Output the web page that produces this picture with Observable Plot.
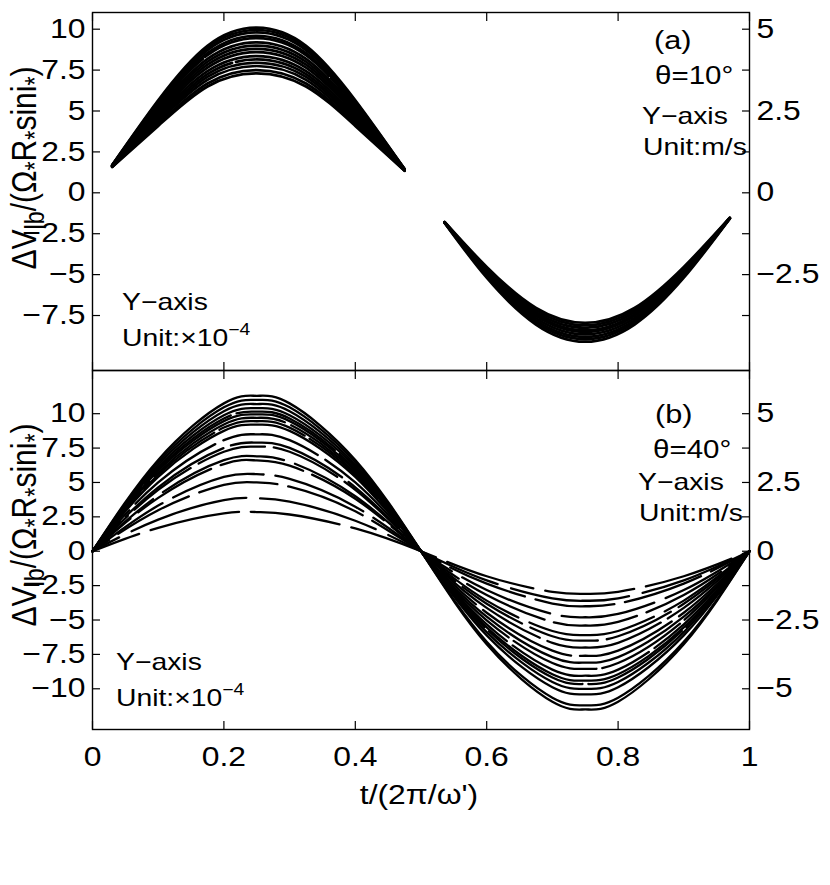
<!DOCTYPE html>
<html><head><meta charset="utf-8">
<script src="https://cdn.jsdelivr.net/npm/d3@7"></script>
<script src="https://cdn.jsdelivr.net/npm/@observablehq/plot@0.6"></script>
<style>
body{margin:0;background:#fff;}
#wrap{position:relative;width:830px;height:885px;font-family:"Liberation Sans",Arial,Helvetica,sans-serif;color:#000;overflow:hidden;}
#wrap svg{position:absolute;left:0;}
.ann{position:absolute;white-space:nowrap;line-height:1;transform-origin:0 50%;}
.ann sup{font-size:68%;line-height:0;position:relative;top:-0.15em;}
.ann sub{font-size:78%;line-height:0;}
</style></head><body><div id="wrap"></div>
<script>
// ---------- Panel (a), theta = 10 deg ----------
const tPosA = [0.03, 0.1, 0.175, 0.25, 0.325, 0.4, 0.475];
const posA = [
  [1.70, 5.66, 8.99, 10.10, 8.99, 5.66, 1.45],
  [1.70, 5.57, 8.86, 9.95, 8.86, 5.57, 1.45],
  [1.68, 5.49, 8.72, 9.80, 8.72, 5.49, 1.44],
  [1.68, 5.38, 8.54, 9.60, 8.54, 5.38, 1.43],
  [1.67, 5.29, 8.41, 9.45, 8.41, 5.29, 1.42],
  [1.66, 5.15, 8.19, 9.20, 8.19, 5.15, 1.42],
  [1.65, 5.04, 8.01, 9.00, 8.01, 5.04, 1.41],
  [1.64, 4.93, 7.83, 8.80, 7.83, 4.93, 1.40],
  [1.63, 4.82, 7.65, 8.60, 7.65, 4.82, 1.40],
  [1.62, 4.68, 7.43, 8.35, 7.43, 4.68, 1.39],
  [1.61, 4.56, 7.25, 8.15, 7.25, 4.56, 1.38],
  [1.60, 4.45, 7.08, 7.95, 7.08, 4.45, 1.38],
  [1.60, 4.34, 6.90, 7.75, 6.90, 4.34, 1.37],
  [1.59, 4.20, 6.68, 7.50, 6.68, 4.20, 1.36],
  [1.58, 4.09, 6.50, 7.30, 6.50, 4.09, 1.35]
];
const tNegA = [0.536, 0.6, 0.675, 0.75, 0.825, 0.9, 0.97];
const negA = [
  [-1.78, -4.53, -7.04, -7.95, -7.04, -4.53, -1.52],
  [-1.79, -4.62, -7.17, -8.10, -7.17, -4.62, -1.53],
  [-1.80, -4.70, -7.30, -8.25, -7.30, -4.70, -1.54],
  [-1.80, -4.79, -7.43, -8.40, -7.43, -4.79, -1.55],
  [-1.81, -4.85, -7.52, -8.50, -7.52, -4.85, -1.55],
  [-1.82, -4.93, -7.66, -8.65, -7.66, -4.93, -1.56],
  [-1.82, -5.02, -7.79, -8.80, -7.79, -5.02, -1.57],
  [-1.83, -5.10, -7.92, -8.95, -7.92, -5.10, -1.57],
  [-1.84, -5.19, -8.05, -9.10, -8.05, -5.19, -1.58]
];

// ---------- Panel (b), theta = 40 deg ----------
const tB = [0, 0.1, 0.2, 0.25, 0.3, 0.4, 0.5, 0.6, 0.7, 0.75, 0.8, 0.9, 1];
const curvesB = [
  [0, 6.64, 10.75, 11.30, 10.75, 6.64, 0, -6.76, -10.94, -11.50, -10.94, -6.76, 0],
  [0, 6.47, 10.46, 11.00, 10.46, 6.47, 0, -6.59, -10.65, -11.20, -10.65, -6.59, 0],
  [0, 6.29, 10.18, 10.70, 10.18, 6.29, 0, -6.12, -9.89, -10.40, -9.89, -6.12, 0],
  [0, 6.12, 9.89, 10.40, 9.89, 6.12, 0, -5.88, -9.51, -10.00, -9.51, -5.88, 0],
  [0, 5.97, 9.65, 10.15, 9.65, 5.97, 0, -5.67, -9.18, -9.65, -9.18, -5.67, 0],
  [0, 5.85, 9.46, 9.95, 9.46, 5.85, 0, -5.53, -8.94, -9.40, -8.94, -5.53, 0],
  [0, 5.70, 9.22, 9.70, 9.22, 5.70, 0, -5.32, -8.61, -9.05, -8.61, -5.32, 0],
  [0, 5.56, 8.99, 9.45, 8.99, 5.56, 0, -5.03, -8.13, -8.55, -8.13, -5.03, 0],
  [0, 5.41, 8.75, 9.20, 8.75, 5.41, 0, -4.76, -7.70, -8.10, -7.70, -4.76, 0],
  [0, 5.00, 8.08, 8.50, 8.08, 5.00, 0, -4.47, -7.23, -7.60, -7.23, -4.47, 0],
  [0, 4.65, 7.51, 7.90, 7.51, 4.65, 0, -4.12, -6.66, -7.00, -6.66, -4.12, 0],
  [0, 4.47, 7.23, 7.60, 7.23, 4.47, 0, -3.82, -6.18, -6.50, -6.18, -3.82, 0],
  [0, 4.06, 6.62, 6.90, 6.50, 4.00, 0, -3.59, -5.80, -6.10, -5.80, -3.59, 0],
  [0, 3.88, 6.34, 6.60, 6.22, 3.82, 0, -3.18, -5.14, -5.40, -5.14, -3.18, 0],
  [0, 3.32, 5.40, 5.60, 5.26, 3.24, 0, -2.82, -4.56, -4.80, -4.56, -2.82, 0],
  [0, 2.98, 4.83, 5.00, 4.69, 2.90, 0, -2.35, -3.80, -4.00, -3.80, -2.35, 0],
  [0, 2.30, 3.72, 3.85, 3.60, 2.22, 0, -2.12, -3.42, -3.60, -3.42, -2.12, 0],
  [0, 1.70, 2.75, 2.85, 2.67, 1.66, 0, -1.82, -2.95, -3.10, -2.95, -1.82, 0]
];

// ---------- axes ----------
const xTicks = [0, 0.2, 0.4, 0.6, 0.8, 1];
const xTickLabels = [0, 0.2, 0.4, 0.6, 0.8, 1];
const yTicksA = [-7.5, -5, -2.5, 0, 2.5, 5, 7.5, 10];
const yTicksB = [-10, -7.5, -5, -2.5, 0, 2.5, 5, 7.5, 10];
const rightLabelsA = [-2.5, 0, 2.5, 5];        // m/s (right axis = left / 2)
const rightLabelsB = [-5, -2.5, 0, 2.5, 5];

// line styles (not data)
const dashA = ["none","none","none","none","140,3","none","none","none","none","none","160,4","none","none","none","none"];
const dashB = ["none","none","none","none","110,6","none","150,7","90,6","none","100,9","120,8","70,9","130,12","85,10","95,12","80,11","120,14","90,12"];
const offB  = [0,0,0,0,30,0,60,15,0,45,80,20,50,35,10,60,90,40];

const fmt = d3.format("~g");
const FONT = "'Liberation Sans', Arial, Helvetica, sans-serif";
const STRETCH = 1.18;

function rows(ts, vals) {
  return vals.map((r, i) => r.map((v, j) => ({t: ts[j], v, id: i})));
}

function frameMarks(yTicks, rightLabels, withXLabels) {
  const m = [
    Plot.frame({stroke: "black", strokeWidth: 1.4}),
    Plot.axisY(yTicks, {anchor: "left", tickSize: 0, tickPadding: 7, tickFormat: fmt, label: null, fontSize: 27}),
    Plot.axisY(rightLabels.map(v => v * 2), {anchor: "right", tickSize: 0, tickPadding: 7, tickFormat: d => fmt(d / 2), label: null, fontSize: 27}),
    Plot.axisY(yTicks, {anchor: "left", tickSize: 8, dx: 8, tickFormat: () => "", label: null, strokeWidth: 1.2}),
    Plot.axisY(yTicks, {anchor: "right", tickSize: 8, dx: -8, tickFormat: () => "", label: null, strokeWidth: 1.2}),
    Plot.axisX(xTicks, {anchor: "bottom", tickSize: 8, dy: -8, tickFormat: () => "", label: null, strokeWidth: 1.2}),
    Plot.axisX(xTicks, {anchor: "top", tickSize: 8, dy: 8, tickFormat: () => "", label: null, strokeWidth: 1.2})
  ];
  if (withXLabels) m.push(Plot.axisX(xTickLabels, {anchor: "bottom", tickSize: 0, tickPadding: 17, tickFormat: fmt, label: null, fontSize: 27}));
  return m;
}

function stretchText(svg, k) {
  svg.querySelectorAll("text").forEach(t => {
    const tr = t.getAttribute("transform");
    if (tr) t.setAttribute("transform", tr + ` scale(${k},1)`);
    else {
      const x = +(t.getAttribute("x") || 0), y = +(t.getAttribute("y") || 0);
      t.setAttribute("transform", `translate(${x},${y}) scale(${k},1) translate(${-x},${-y})`);
    }
  });
}

const linesA = [
  ...rows(tPosA, posA).map((d, i) => Plot.line(d, {x: "t", y: "v", curve: "natural", stroke: "black", strokeWidth: 2.7, strokeDasharray: dashA[i]})),
  ...rows(tNegA, negA).map((d) => Plot.line(d, {x: "t", y: "v", curve: "natural", stroke: "black", strokeWidth: 2.7}))
];
const linesB = rows(tB, curvesB).map((d, i) => Plot.line(d, {x: "t", y: "v", curve: "natural", stroke: "black", strokeWidth: 2.3, strokeDasharray: dashB[i], strokeDashoffset: offB[i]}));

const styleBase = {fontFamily: FONT, fontSize: "27px", color: "black", background: "transparent", overflow: "visible"};

const plotA = Plot.plot({
  width: 830, height: 372, marginTop: 12, marginBottom: 2, marginLeft: 92, marginRight: 81,
  x: {domain: [0, 1]}, y: {domain: [-10.86, 11.02]},
  style: styleBase,
  marks: [...linesA, ...frameMarks(yTicksA, rightLabelsA, false)]
});
const plotB = Plot.plot({
  width: 830, height: 525, marginTop: 10, marginBottom: 156, marginLeft: 92, marginRight: 81,
  x: {domain: [0, 1]}, y: {domain: [-12.96, 13.14]},
  style: styleBase,
  marks: [...linesB, ...frameMarks(yTicksB, rightLabelsB, true)]
});
stretchText(plotA, STRETCH);
stretchText(plotB, STRETCH);
plotA.style.top = "0px";
plotB.style.top = "360px";
const wrap = document.getElementById("wrap");
wrap.appendChild(plotA);
wrap.appendChild(plotB);

// ---------- annotations ----------
function note(html, x, y, size, center) {
  const d = document.createElement("div");
  d.className = "ann";
  d.innerHTML = html;
  d.style.left = x + "px";
  d.style.top = y + "px";
  d.style.fontSize = size + "px";
  if (center) { d.style.transformOrigin = "50% 50%"; d.style.transform = `translate(-50%,-50%) scaleX(${STRETCH})`; }
  else d.style.transform = `translateY(-50%) scaleX(${STRETCH})`;
  wrap.appendChild(d);
}
note("(a)", 654, 40, 26);
note("θ=10°", 655, 75, 25);
note("Y−axis", 642, 116, 24);
note("Unit:m/s", 643, 147, 24);
note("Y−axis", 122, 302, 24);
note("Unit:×10<sup>−4</sup>", 122, 338, 24);
note("(b)", 655, 414, 26);
note("θ=40°", 653, 449, 25);
note("Y−axis", 638, 482, 24);
note("Unit:m/s", 639, 513, 24);
note("Y−axis", 116, 662, 24);
note("Unit:×10<sup>−4</sup>", 116, 698, 24);
note("t/(2π/ω')", 419, 795, 27, true);

function ylabel(cy) {
  const d = document.createElement("div");
  d.className = "ann";
  d.innerHTML = "ΔV<sub>lb</sub>/(Ω<sub>*</sub>R<sub>*</sub>sini<sub>*</sub>)";
  d.style.left = "24px";
  d.style.top = cy + "px";
  d.style.fontSize = "30px";
  d.style.transformOrigin = "50% 50%";
  d.style.transform = `translate(-50%,-50%) scaleX(${STRETCH}) rotate(-90deg)`;
  wrap.appendChild(d);
}
ylabel(168);
ylabel(525);
</script>
</body></html>
